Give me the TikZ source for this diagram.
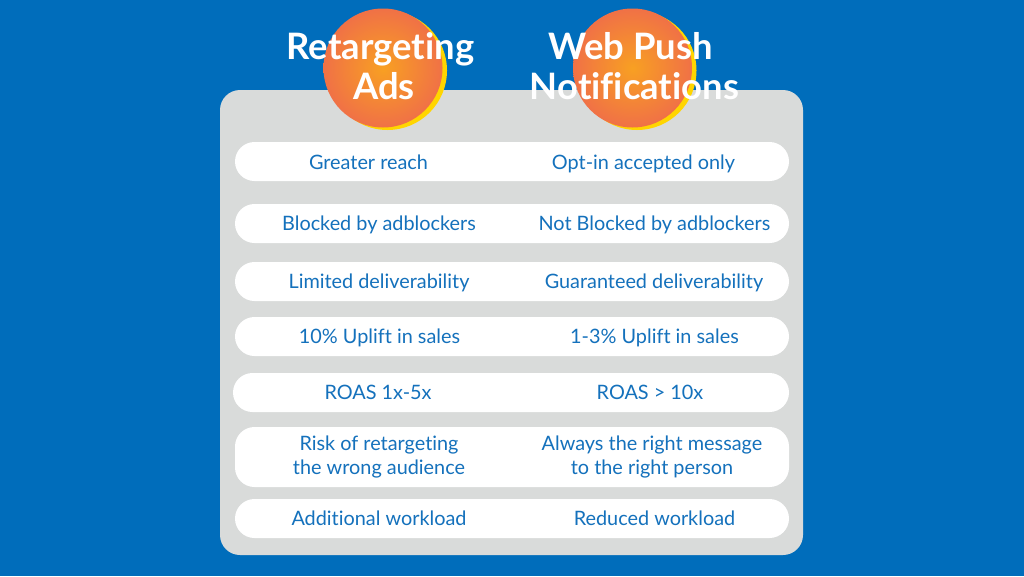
\documentclass[tikz,border=0pt]{standalone}
\usepackage{fontspec}
\setmainfont[Ligatures=CommonOff]{Lato}
\usetikzlibrary{positioning}
\definecolor{page-blue}{HTML}{006DBB}
\definecolor{panel-gray}{HTML}{D9DBDA}
\definecolor{row-blue}{HTML}{1471BC}
\definecolor{disc-yellow}{HTML}{FFD500}
\definecolor{disc-orange}{HTML}{F07146}
\definecolor{disc-core}{HTML}{F8A022}
\tikzset{
    pill/.style={fill=white, rounded corners=19.5pt},
    rowtext/.style={text=row-blue, font=\fontsize{19.85}{24}\selectfont, align=center, inner sep=0pt},
    headtext/.style={text=white, font=\fontsize{36.4}{40}\selectfont\bfseries, anchor=base, inner sep=0pt},
}
\begin{document}
\begin{tikzpicture}[x=1pt, y=-1pt]
    % Page and panel
    \fill[page-blue] (0,0) rectangle (1024,576);
    \useasboundingbox (0,0) rectangle (1024,576);
    \fill[panel-gray, rounded corners=20pt] (220,90) rectangle (803,555);

    % Discs behind the headings
    \foreach \cx/\name in {383/discA, 632.5/discB} {
        \fill[disc-yellow] (\cx+4.5,70.5) circle (59.5pt);
        \node[circle, minimum size=119pt, inner sep=0pt, inner color=disc-core, outer color=disc-orange] (\name) at (\cx,68) {};
    }

    % Headings
    \node[headtext] (headA) at (380.5,59) {Retargeting};
    \node[headtext] (headB) at (384,99) {Ads};
    \node[headtext] (headC) at (630.5,59) {Web Push};
    \node[headtext] (headD) at (634.5,99) {Notifications};

    % Rows
    \foreach \n/\xa/\top/\bot/\xl/\yl/\tleft/\xr/\yr/\tright in {
        a/235/142/181/368.5/162/{Greater reach}/643.5/164/{Opt-in accepted only},
        b/235/204/243/379/225/{Blocked by adblockers}/654.5/225/{Not Blocked by adblockers},
        c/235/262/301/379/283/{Limited deliverability}/654/283/{Guaranteed deliverability},
        d/235/317/356/379.5/338/{10\% Uplift in sales}/654.5/338/{1-3\% Uplift in sales},
        e/233/373/412/378/392/{ROAS 1x-5x}/650/392/{ROAS > 10x},
        f/235/427/487/379/457/{Risk of retargeting\\the wrong audience}/652/457/{Always the right message\\to the right person},
        g/235/499/538/379/518/{Additional workload}/654.5/518/{Reduced workload}} {
        \fill[pill] (\xa,\top) rectangle (789,\bot);
        \node[rowtext] (left\n) at (\xl,\yl) {\tleft};
        \node[rowtext] (right\n) at (\xr,\yr) {\tright};
    }
\end{tikzpicture}
\end{document}
